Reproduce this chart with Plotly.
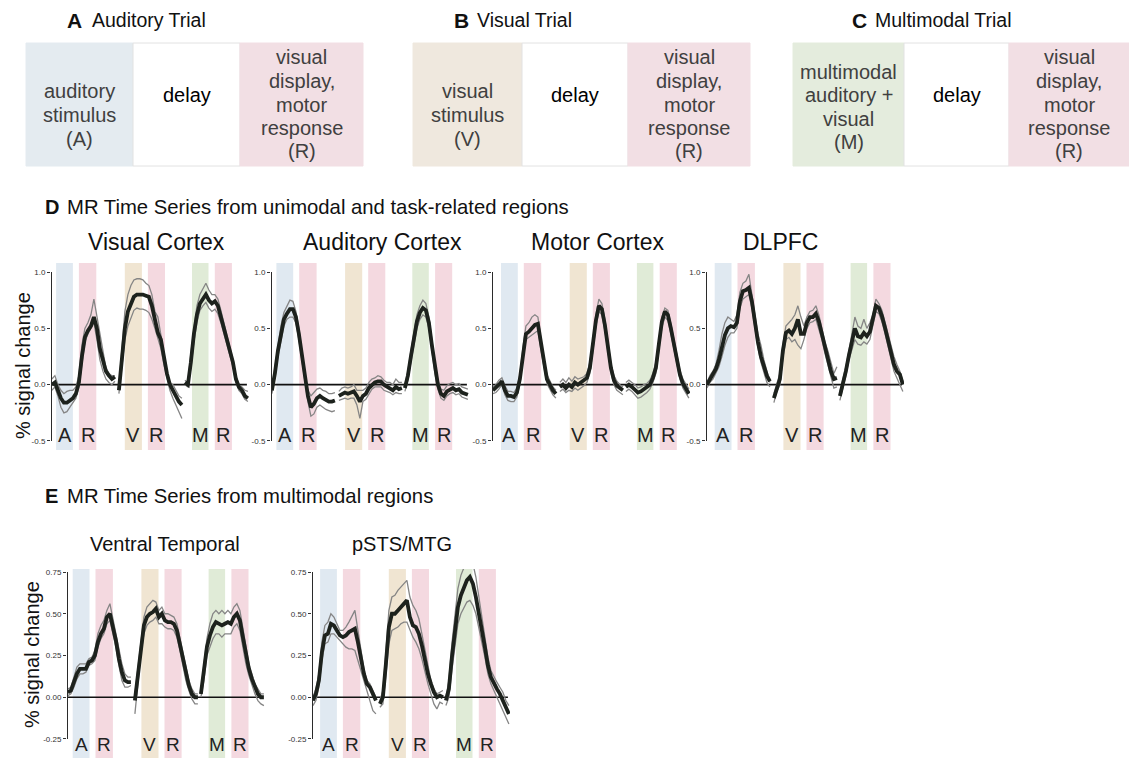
import plotly.graph_objects as go

W, H = 1129, 758
FONT = "Liberation Sans, Arial, Helvetica, sans-serif"

# ---------------- data ----------------
TIME_POINTS = list(range(22))          # TR index within a trial
TRIAL_OFFSETS = [0.0, 22.33, 44.33]    # trial onsets on the shared time axis
STIM_BANDS = [(1.4, 7.0), (24.3, 30.0), (46.7, 52.2)]
RESP_BANDS = [(9.0, 14.8), (32.0, 37.7), (54.3, 60.0)]
STIM_LETTERS = ["A", "V", "M"]
RESP_LETTER = "R"

visual_mean = [
    [0.0, 0.02, -0.05, -0.12, -0.16, -0.16, -0.14, -0.12, -0.08, 0.02, 0.25, 0.42, 0.48, 0.52, 0.6, 0.5, 0.32, 0.22, 0.12, 0.08, 0.05, 0.07],
    [-0.05, 0.25, 0.5, 0.65, 0.72, 0.78, 0.8, 0.8, 0.8, 0.79, 0.78, 0.7, 0.58, 0.46, 0.4, 0.25, 0.1, 0.0, -0.05, -0.1, -0.15, -0.18],
    [0.02, 0.0, 0.2, 0.45, 0.62, 0.72, 0.76, 0.8, 0.75, 0.72, 0.74, 0.7, 0.6, 0.5, 0.42, 0.3, 0.2, 0.05, -0.02, -0.05, -0.1, -0.12],
]
visual_hi = [
    [0.05, 0.08, 0.0, -0.05, -0.08, -0.06, -0.05, -0.05, -0.02, 0.08, 0.35, 0.5, 0.55, 0.62, 0.76, 0.6, 0.45, 0.3, 0.15, 0.1, 0.08, 0.08],
    [-0.02, 0.35, 0.65, 0.8, 0.88, 0.93, 0.94, 0.94, 0.93, 0.9, 0.88, 0.8, 0.65, 0.6, 0.45, 0.3, 0.12, 0.02, 0.0, -0.05, -0.1, -0.12],
    [0.04, 0.02, 0.28, 0.52, 0.7, 0.8, 0.85, 0.9, 0.84, 0.8, 0.8, 0.76, 0.66, 0.55, 0.46, 0.34, 0.22, 0.08, 0.0, -0.02, -0.05, -0.06],
]
visual_lo = [
    [-0.05, -0.02, -0.1, -0.2, -0.25, -0.24, -0.2, -0.16, -0.12, -0.02, 0.2, 0.38, 0.45, 0.5, 0.55, 0.4, 0.22, 0.12, 0.05, 0.02, 0.0, 0.03],
    [-0.08, 0.15, 0.4, 0.52, 0.6, 0.66, 0.68, 0.67, 0.67, 0.66, 0.64, 0.58, 0.5, 0.4, 0.32, 0.18, 0.05, -0.05, -0.12, -0.18, -0.25, -0.3],
    [0.0, -0.02, 0.15, 0.38, 0.55, 0.66, 0.7, 0.73, 0.68, 0.65, 0.67, 0.63, 0.55, 0.45, 0.37, 0.26, 0.16, 0.02, -0.05, -0.08, -0.13, -0.15],
]

auditory_mean = [
    [-0.05, 0.1, 0.3, 0.45, 0.58, 0.63, 0.67, 0.67, 0.6, 0.45, 0.25, 0.05, -0.1, -0.2, -0.17, -0.12, -0.1, -0.12, -0.14, -0.15, -0.15, -0.14],
    [-0.1, -0.08, -0.07, -0.08, -0.07, -0.06, -0.1, -0.15, -0.1, -0.08, -0.03, 0.0, 0.02, 0.03, 0.03, 0.0, -0.02, -0.03, -0.05, -0.02, -0.04, -0.03],
    [-0.03, 0.08, 0.25, 0.42, 0.56, 0.64, 0.68, 0.66, 0.55, 0.35, 0.15, 0.0, -0.08, -0.1, -0.06, -0.04, -0.03, -0.05, -0.04, -0.07, -0.08, -0.09],
]
auditory_hi = [
    [-0.03, 0.15, 0.35, 0.52, 0.64, 0.7, 0.75, 0.74, 0.65, 0.5, 0.3, 0.08, -0.05, -0.1, -0.07, -0.04, -0.03, -0.05, -0.06, -0.08, -0.08, -0.07],
    [-0.06, -0.03, -0.02, -0.03, -0.02, 0.0, -0.05, -0.05, -0.05, -0.03, 0.02, 0.05, 0.06, 0.08, 0.07, 0.04, 0.02, 0.02, 0.0, 0.05, 0.02, 0.02],
    [0.0, 0.12, 0.3, 0.47, 0.62, 0.7, 0.75, 0.72, 0.6, 0.4, 0.19, 0.04, -0.04, -0.05, -0.01, 0.01, 0.02, 0.0, 0.01, -0.02, -0.03, -0.04],
]
auditory_lo = [
    [-0.08, 0.06, 0.25, 0.4, 0.52, 0.58, 0.6, 0.6, 0.55, 0.4, 0.2, 0.0, -0.15, -0.28, -0.26, -0.2, -0.18, -0.2, -0.22, -0.23, -0.24, -0.23],
    [-0.14, -0.13, -0.12, -0.13, -0.12, -0.12, -0.18, -0.3, -0.15, -0.13, -0.08, -0.04, -0.02, -0.02, -0.02, -0.05, -0.06, -0.07, -0.09, -0.07, -0.08, -0.08],
    [-0.06, 0.04, 0.2, 0.37, 0.5, 0.58, 0.62, 0.6, 0.5, 0.3, 0.1, -0.04, -0.12, -0.14, -0.1, -0.08, -0.07, -0.09, -0.08, -0.11, -0.12, -0.13],
]

motor_mean = [
    [-0.05, -0.03, 0.0, 0.03, -0.05, -0.1, -0.1, -0.11, -0.07, 0.05, 0.28, 0.45, 0.47, 0.5, 0.53, 0.54, 0.36, 0.18, 0.05, 0.0, -0.05, -0.08],
    [-0.02, 0.0, -0.03, 0.0, -0.02, 0.02, 0.0, 0.02, 0.03, 0.06, 0.15, 0.35, 0.57, 0.7, 0.67, 0.53, 0.33, 0.15, 0.04, -0.01, -0.03, -0.05],
    [-0.02, 0.0, -0.02, -0.04, -0.07, -0.06, -0.04, -0.03, 0.0, 0.06, 0.15, 0.36, 0.56, 0.65, 0.62, 0.5, 0.36, 0.22, 0.09, 0.01, -0.04, -0.08],
]
motor_hi = [
    [-0.02, 0.0, 0.04, 0.06, -0.01, -0.06, -0.06, -0.07, -0.03, 0.09, 0.33, 0.52, 0.55, 0.6, 0.62, 0.6, 0.41, 0.22, 0.09, 0.03, -0.02, -0.05],
    [0.02, 0.05, 0.02, 0.06, 0.03, 0.07, 0.05, 0.06, 0.07, 0.1, 0.2, 0.4, 0.62, 0.76, 0.72, 0.58, 0.37, 0.19, 0.08, 0.03, 0.0, -0.02],
    [0.02, 0.04, 0.02, 0.0, -0.03, -0.02, 0.0, 0.01, 0.04, 0.1, 0.2, 0.4, 0.6, 0.68, 0.66, 0.54, 0.4, 0.26, 0.13, 0.05, 0.0, -0.04],
]
motor_lo = [
    [-0.08, -0.07, -0.04, 0.0, -0.09, -0.14, -0.15, -0.15, -0.11, 0.01, 0.23, 0.4, 0.42, 0.44, 0.46, 0.48, 0.31, 0.14, 0.01, -0.04, -0.09, -0.12],
    [-0.06, -0.04, -0.07, -0.05, -0.06, -0.03, -0.05, -0.03, -0.01, 0.02, 0.1, 0.3, 0.52, 0.65, 0.62, 0.48, 0.29, 0.11, 0.0, -0.05, -0.07, -0.09],
    [-0.06, -0.04, -0.06, -0.09, -0.12, -0.11, -0.09, -0.07, -0.04, 0.02, 0.1, 0.31, 0.51, 0.6, 0.57, 0.45, 0.31, 0.17, 0.05, -0.03, -0.08, -0.12],
]

dlpfc_mean = [
    [0.0, 0.05, 0.09, 0.14, 0.22, 0.32, 0.44, 0.5, 0.52, 0.51, 0.55, 0.74, 0.83, 0.84, 0.86, 0.74, 0.55, 0.38, 0.25, 0.16, 0.08, 0.03],
    [-0.12, -0.03, 0.05, 0.3, 0.46, 0.48, 0.45, 0.5, 0.58, 0.45, 0.45, 0.55, 0.6, 0.6, 0.63, 0.56, 0.45, 0.32, 0.22, 0.12, 0.05, 0.06],
    [-0.1, 0.0, 0.12, 0.26, 0.38, 0.5, 0.43, 0.42, 0.46, 0.43, 0.47, 0.58, 0.7, 0.68, 0.61, 0.51, 0.4, 0.28, 0.18, 0.12, 0.09, 0.0],
]
dlpfc_hi = [
    [0.02, 0.08, 0.12, 0.18, 0.3, 0.45, 0.55, 0.6, 0.58, 0.56, 0.62, 0.82, 0.9, 0.92, 0.98, 0.82, 0.62, 0.45, 0.35, 0.22, 0.12, 0.02],
    [-0.08, 0.0, 0.1, 0.36, 0.52, 0.55, 0.58, 0.62, 0.7, 0.6, 0.52, 0.6, 0.65, 0.66, 0.7, 0.62, 0.5, 0.38, 0.3, 0.2, 0.1, 0.16],
    [-0.06, 0.04, 0.16, 0.3, 0.44, 0.6, 0.52, 0.5, 0.58, 0.5, 0.55, 0.62, 0.76, 0.72, 0.66, 0.56, 0.45, 0.34, 0.25, 0.18, 0.12, 0.03],
]
dlpfc_lo = [
    [-0.03, 0.02, 0.05, 0.1, 0.16, 0.25, 0.35, 0.42, 0.46, 0.46, 0.5, 0.68, 0.76, 0.78, 0.8, 0.68, 0.5, 0.33, 0.2, 0.1, 0.02, -0.02],
    [-0.16, -0.06, 0.0, 0.24, 0.4, 0.42, 0.38, 0.4, 0.35, 0.32, 0.4, 0.5, 0.55, 0.56, 0.58, 0.5, 0.4, 0.28, 0.18, 0.07, -0.03, -0.02],
    [-0.14, -0.04, 0.08, 0.22, 0.32, 0.4, 0.36, 0.35, 0.38, 0.36, 0.4, 0.54, 0.65, 0.63, 0.56, 0.46, 0.35, 0.22, 0.12, 0.06, 0.0, -0.06],
]

ventral_mean = [
    [0.03, 0.04, 0.09, 0.14, 0.17, 0.17, 0.17, 0.21, 0.22, 0.25, 0.33, 0.38, 0.41, 0.48, 0.5, 0.42, 0.34, 0.23, 0.15, 0.1, 0.09, 0.09],
    [-0.02, 0.14, 0.3, 0.43, 0.48, 0.5, 0.51, 0.53, 0.48, 0.5, 0.46, 0.45, 0.45, 0.44, 0.4, 0.32, 0.23, 0.14, 0.07, 0.02, 0.0, 0.0],
    [0.02, 0.15, 0.3, 0.37, 0.42, 0.45, 0.44, 0.43, 0.44, 0.45, 0.44, 0.48, 0.5, 0.46, 0.36, 0.25, 0.17, 0.11, 0.06, 0.02, 0.0, 0.0],
]
ventral_hi = [
    [0.05, 0.06, 0.12, 0.18, 0.2, 0.2, 0.2, 0.23, 0.24, 0.28, 0.38, 0.43, 0.46, 0.52, 0.56, 0.47, 0.38, 0.28, 0.2, 0.14, 0.12, 0.12],
    [0.02, 0.18, 0.34, 0.48, 0.54, 0.56, 0.58, 0.57, 0.52, 0.54, 0.5, 0.5, 0.49, 0.48, 0.44, 0.36, 0.27, 0.18, 0.1, 0.05, 0.02, 0.02],
    [0.04, 0.2, 0.35, 0.44, 0.5, 0.52, 0.5, 0.52, 0.5, 0.52, 0.5, 0.54, 0.56, 0.52, 0.42, 0.3, 0.2, 0.14, 0.08, 0.05, 0.02, 0.02],
]
ventral_lo = [
    [0.01, 0.02, 0.06, 0.11, 0.14, 0.14, 0.15, 0.19, 0.2, 0.22, 0.3, 0.35, 0.38, 0.44, 0.46, 0.38, 0.3, 0.19, 0.1, 0.06, 0.06, 0.07],
    [-0.1, 0.1, 0.26, 0.38, 0.43, 0.45, 0.46, 0.48, 0.44, 0.44, 0.42, 0.41, 0.41, 0.4, 0.36, 0.28, 0.19, 0.1, 0.04, -0.01, -0.04, -0.04],
    [0.0, 0.1, 0.25, 0.3, 0.35, 0.38, 0.38, 0.36, 0.38, 0.38, 0.38, 0.42, 0.44, 0.4, 0.3, 0.2, 0.13, 0.07, 0.02, -0.02, -0.04, -0.05],
]

psts_mean = [
    [-0.02, 0.02, 0.1, 0.27, 0.37, 0.38, 0.44, 0.43, 0.4, 0.37, 0.36, 0.37, 0.39, 0.4, 0.41, 0.33, 0.23, 0.14, 0.08, 0.06, 0.02, -0.02],
    [-0.04, 0.0, 0.2, 0.42, 0.5, 0.5, 0.52, 0.54, 0.56, 0.58, 0.48, 0.43, 0.42, 0.38, 0.31, 0.22, 0.14, 0.08, 0.03, 0.0, 0.01, 0.0],
    [-0.02, 0.05, 0.24, 0.4, 0.54, 0.61, 0.66, 0.7, 0.72, 0.68, 0.6, 0.51, 0.4, 0.3, 0.19, 0.12, 0.08, 0.05, 0.02, -0.02, -0.06, -0.1],
]
psts_hi = [
    [0.0, 0.05, 0.14, 0.33, 0.43, 0.45, 0.5, 0.48, 0.44, 0.4, 0.4, 0.42, 0.45, 0.49, 0.52, 0.4, 0.28, 0.17, 0.1, 0.08, 0.04, 0.0],
    [-0.02, 0.04, 0.27, 0.52, 0.6, 0.61, 0.64, 0.66, 0.68, 0.7, 0.6, 0.55, 0.52, 0.47, 0.38, 0.28, 0.18, 0.1, 0.05, 0.02, 0.03, 0.04],
    [0.0, 0.1, 0.32, 0.5, 0.65, 0.73, 0.78, 0.82, 0.84, 0.8, 0.72, 0.6, 0.48, 0.36, 0.24, 0.16, 0.12, 0.09, 0.06, 0.03, -0.02, -0.05],
]
psts_lo = [
    [-0.05, -0.02, 0.06, 0.22, 0.32, 0.33, 0.38, 0.38, 0.36, 0.34, 0.32, 0.3, 0.29, 0.29, 0.28, 0.22, 0.16, 0.1, 0.04, -0.02, -0.08, -0.1],
    [-0.06, -0.04, 0.13, 0.32, 0.4, 0.41, 0.42, 0.44, 0.45, 0.45, 0.4, 0.36, 0.33, 0.29, 0.23, 0.15, 0.08, 0.02, -0.04, -0.07, -0.03, -0.04],
    [-0.05, 0.0, 0.16, 0.32, 0.44, 0.5, 0.54, 0.57, 0.58, 0.55, 0.5, 0.42, 0.33, 0.24, 0.14, 0.08, 0.04, 0.0, -0.04, -0.08, -0.12, -0.16],
]

PANEL_TITLES = ["Visual Cortex", "Auditory Cortex", "Motor Cortex", "DLPFC", "Ventral Temporal", "pSTS/MTG"]
D_TICKS = [-0.5, 0.0, 0.5, 1.0]
D_TICK_TEXT = ["-0.5", "0.0", "0.5", "1.0"]
E_TICKS = [-0.25, 0.0, 0.25, 0.5, 0.75]
E_TICK_TEXT = ["-0.25", "0.00", "0.25", "0.50", "0.75"]

# ---------------- styling / layout ----------------
STIM_COLORS = ["#e0e9f1", "#f0e5d2", "#e0ebd7"]
RESP_COLOR = "#f4d9e0"
BOX_STIM_COLORS = ["#e4ebf0", "#efe8de", "#e4ecdd"]
BOX_RESP_COLOR = "#f2dfe4"
MEAN_COLOR = "#1d221d"
SEM_COLOR = "#858585"

PX_PER_T = 3.0
PANEL_W_PX = 198

ROWS = {
    "D": dict(top=263, bottom=450, yrange=[-0.58, 1.08], ticks=D_TICKS, ticktext=D_TICK_TEXT,
              span=(-0.5, 1.0), letter_y=-0.45, title_y=242, title_size=23, letter_size=20),
    "E": dict(top=569, bottom=758, yrange=[-0.364, 0.768], ticks=E_TICKS, ticktext=E_TICK_TEXT,
              span=(-0.25, 0.75), letter_y=-0.285, title_y=544, title_size=20, letter_size=19),
}

PANELS = [
    dict(mean=visual_mean, hi=visual_hi, lo=visual_lo, axis_px=52, shift=0.0, row="D", title_x=156),
    dict(mean=auditory_mean, hi=auditory_hi, lo=auditory_lo, axis_px=272, shift=0.1, row="D", title_x=382),
    dict(mean=motor_mean, hi=motor_hi, lo=motor_lo, axis_px=493, shift=1.3, row="D", title_x=597),
    dict(mean=dlpfc_mean, hi=dlpfc_hi, lo=dlpfc_lo, axis_px=707, shift=1.2, row="D", title_x=780),
    dict(mean=ventral_mean, hi=ventral_hi, lo=ventral_lo, axis_px=68, shift=0.2, row="E", title_x=165),
    dict(mean=psts_mean, hi=psts_hi, lo=psts_lo, axis_px=313, shift=1.0, row="E", title_x=402),
]

fig = go.Figure()
shapes = []
annotations = []
layout_axes = {}


def px_x(px):
    return px / W


def px_y(py):
    return 1 - py / H


def paper_text(x, y, text, size, color="#111", anchor="center", angle=0):
    annotations.append(dict(x=px_x(x), y=px_y(y), xref="paper", yref="paper", text=text,
                            showarrow=False, xanchor=anchor, yanchor="middle", textangle=angle,
                            font=dict(size=size, color=color, family=FONT)))


XMIN = -0.3
ZERO_END = 65.0

for i, (p, title) in enumerate(zip(PANELS, PANEL_TITLES)):
    n = i + 1
    sfx = "" if n == 1 else str(n)
    xr, yr = f"x{sfx}", f"y{sfx}"
    row = ROWS[p["row"]]
    left_px = p["axis_px"] - 1
    layout_axes["xaxis" + sfx] = dict(
        domain=[px_x(left_px), px_x(left_px + PANEL_W_PX)],
        range=[XMIN, XMIN + PANEL_W_PX / PX_PER_T],
        visible=False, fixedrange=True, anchor=yr,
    )
    layout_axes["yaxis" + sfx] = dict(
        domain=[max(0.0, px_y(row["bottom"])), px_y(row["top"])],
        range=row["yrange"], anchor=xr, fixedrange=True,
        tickmode="array", tickvals=row["ticks"], ticktext=row["ticktext"],
        ticks="outside", ticklen=3, tickwidth=1, tickcolor="#333",
        tickfont=dict(size=8, color="#333", family=FONT),
        showgrid=False, zeroline=False, showline=False,
    )
    # condition bands
    for k in range(3):
        s0, s1 = STIM_BANDS[k]
        r0, r1 = RESP_BANDS[k]
        for (b0, b1, col, lab) in [(s0, s1, STIM_COLORS[k], STIM_LETTERS[k]),
                                    (r0, r1, RESP_COLOR, RESP_LETTER)]:
            shapes.append(dict(type="rect", xref=xr, yref=f"{yr} domain",
                               x0=b0 + p["shift"], x1=b1 + p["shift"], y0=0, y1=1,
                               fillcolor=col, line=dict(width=0), layer="below"))
            annotations.append(dict(x=(b0 + b1) / 2 + p["shift"], y=row["letter_y"],
                                    xref=xr, yref=yr, text=lab, showarrow=False,
                                    font=dict(size=row["letter_size"], color="#222", family=FONT),
                                    xanchor="center", yanchor="middle"))
    # zero line & y axis line
    shapes.append(dict(type="line", xref=xr, yref=yr, x0=XMIN, x1=ZERO_END, y0=0, y1=0,
                       line=dict(color="#111", width=1.6), layer="below"))
    shapes.append(dict(type="line", xref=xr, yref=yr, x0=XMIN, x1=XMIN,
                       y0=row["span"][0], y1=row["span"][1],
                       line=dict(color="#2b2b2b", width=2)))
    # traces
    for k in range(3):
        xs = [TRIAL_OFFSETS[k] + t for t in TIME_POINTS]
        for series in (p["hi"][k], p["lo"][k]):
            fig.add_trace(go.Scatter(x=xs, y=series, mode="lines", xaxis=xr, yaxis=yr,
                                     line=dict(color=SEM_COLOR, width=1.3),
                                     hoverinfo="skip", showlegend=False))
        fig.add_trace(go.Scatter(x=xs, y=p["mean"][k], mode="lines", xaxis=xr, yaxis=yr,
                                 line=dict(color=MEAN_COLOR, width=3.8),
                                 showlegend=False))
    paper_text(p["title_x"], row["title_y"], title, row["title_size"])

# y-axis labels
paper_text(23, 366, "% signal change", 20, angle=-90)
paper_text(32, 655, "% signal change", 20, angle=-90)

# section titles
paper_text(43, 207, "<b>D</b>", 20, anchor="left")
paper_text(65, 207, "MR Time Series from unimodal and task-related regions", 20.3, anchor="left")
paper_text(43, 496, "<b>E</b>", 20, anchor="left")
paper_text(65, 496, "MR Time Series from multimodal regions", 20.3, anchor="left")

# ---------------- trial schematics (A, B, C) ----------------
TRIALS = [
    dict(title="Auditory Trial", letter="A", letter_x=65, title_x=90, edges=[26, 133, 240, 363],
         stim=["auditory", "stimulus", "(A)"], stim_y=115),
    dict(title="Visual Trial", letter="B", letter_x=452, title_x=475, edges=[413, 522, 628, 750],
         stim=["visual", "stimulus", "(V)"], stim_y=115),
    dict(title="Multimodal Trial", letter="C", letter_x=850, title_x=873, edges=[793, 904, 1009, 1129],
         stim=["multimodal", "auditory +", "visual", "(M)"], stim_y=107),
]
RESP_LINES = ["visual", "display,", "motor", "response", "(R)"]
LINE_GAP = 23.5
BOX_TOP, BOX_BOTTOM = 43, 166
for k, tr in enumerate(TRIALS):
    e = tr["edges"]
    fills = [BOX_STIM_COLORS[k], "#ffffff", BOX_RESP_COLOR]
    for j in range(3):
        shapes.append(dict(type="rect", xref="paper", yref="paper",
                           x0=px_x(e[j]), x1=px_x(e[j + 1]), y0=px_y(BOX_BOTTOM), y1=px_y(BOX_TOP),
                           fillcolor=fills[j],
                           line=dict(color="#e2e2e2" if j == 1 else fills[j], width=1)))
    paper_text(tr["letter_x"], 20, f"<b>{tr['letter']}</b>", 21, anchor="left")
    paper_text(tr["title_x"], 20, tr["title"], 19.5, anchor="left")
    nl = len(tr["stim"])
    for li, line in enumerate(tr["stim"]):
        paper_text((e[0] + e[1]) / 2, tr["stim_y"] + (li - (nl - 1) / 2) * LINE_GAP, line, 20, "#404040")
    paper_text((e[1] + e[2]) / 2, 95, "delay", 20, "#000")
    nr = len(RESP_LINES)
    for li, line in enumerate(RESP_LINES):
        paper_text((e[2] + e[3]) / 2, 104.5 + (li - (nr - 1) / 2) * LINE_GAP, line, 20, "#404040")

fig.update_layout(
    width=W, height=H, margin=dict(l=0, r=0, t=0, b=0),
    paper_bgcolor="white", plot_bgcolor="rgba(0,0,0,0)",
    showlegend=False, shapes=shapes, annotations=annotations,
    font=dict(family=FONT), **layout_axes,
)
fig.write_html("out.html", config={"displayModeBar": False},
               post_script="document.body.style.margin='0';document.body.style.overflow='hidden';")
